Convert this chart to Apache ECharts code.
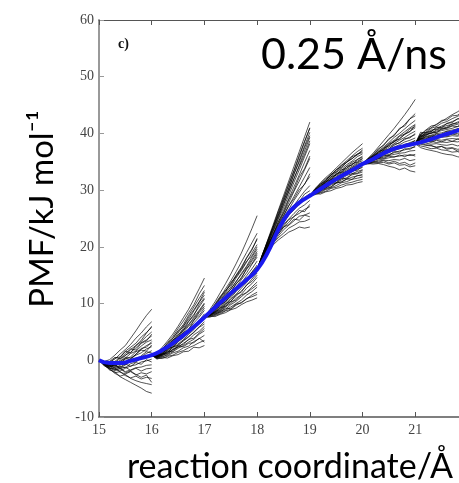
<!DOCTYPE html>
<html>
<head>
<meta charset="utf-8">
<script src="https://cdn.jsdelivr.net/npm/echarts@6/dist/echarts.min.js"></script>
<style>
  html, body { margin: 0; padding: 0; background: #fff; }
  #chart { width: 459px; height: 483px; }
</style>
</head>
<body>
<div id="chart"></div>
<script>
// Axis range and ticks (the frame runs off the right edge before 22 Å)
const xMin = 15, xMax = 21.83, xStep = 1;
const yTicks = [-10, 0, 10, 20, 30, 40, 50, 60];

// Averaged PMF curve (blue)
const pmfX = [15, 15.2, 15.4, 15.6, 15.8, 16, 16.2, 16.4, 16.6, 16.8, 17, 17.2, 17.4, 17.6, 17.8, 18,
              18.2, 18.4, 18.6, 18.8, 19, 19.2, 19.4, 19.6, 19.8, 20, 20.2, 20.4, 20.6, 20.8, 21,
              21.2, 21.4, 21.6, 21.8, 22];
const pmfY = [0, -0.5, -0.5, -0.1, 0.4, 0.9, 1.8, 3.0, 4.4, 5.9, 7.6, 9.3, 11.0, 12.6, 14.2, 16.0,
              19.0, 23.0, 26.0, 27.8, 29.0, 30.2, 31.4, 32.5, 33.5, 34.6, 35.5, 36.5, 37.3, 37.8, 38.2,
              38.7, 39.3, 39.9, 40.5, 41.0];

// Pulling windows: start coordinate and the shared starting value of each fan
const windowStart = [15, 16, 17, 18, 19, 20, 21];
const windowStartPMF = [0, 0.9, 7.6, 16, 29, 34.6, 38.2];
// Offsets (Å) of the sampled points inside each window
const sampleOffsets = [0.1, 0.2, 0.3, 0.4, 0.5, 0.6, 0.7, 0.8, 0.9, 1.0];

// Individual work trajectories per window
const traj15 = [
  [-0.2, 0.1, 0.9, 1.8, 2.6, 3.9, 5.2, 6.6, 7.9, 9.0],
  [-0.4, -0.3, 0.2, 1.1, 1.9, 2.8, 3.9, 4.8, 5.9, 6.8],
  [-0.6, -0.8, -0.2, 0.5, 1.6, 2.3, 3.0, 4.1, 4.9, 5.8],
  [-0.3, -0.6, -0.4, 0.3, 0.8, 1.9, 2.6, 3.3, 4.2, 5.0],
  [-0.5, -1.0, -0.7, 0.0, 0.9, 1.4, 2.2, 3.1, 3.6, 4.3],
  [-0.4, -0.7, -0.9, -0.3, 0.4, 1.2, 1.6, 2.5, 3.2, 3.6],
  [-0.7, -1.1, -0.8, -0.6, 0.2, 0.6, 1.5, 1.9, 2.6, 3.0],
  [-0.3, -0.9, -1.3, -0.9, -0.3, 0.3, 0.9, 1.3, 2.0, 2.4],
  [-0.6, -1.2, -1.0, -1.4, -0.8, -0.2, 0.4, 0.6, 1.2, 1.7],
  [-0.5, -0.8, -1.5, -1.1, -1.3, -0.6, -0.3, 0.4, 0.5, 1.0],
  [-0.8, -1.3, -1.6, -1.9, -1.4, -1.0, -0.8, -0.3, -0.1, 0.2],
  [-0.6, -1.4, -1.8, -1.5, -2.0, -1.7, -1.3, -1.2, -0.9, -0.8],
  [-0.9, -1.5, -1.3, -2.1, -2.4, -2.0, -2.6, -2.2, -2.4, -2.0],
  [-0.7, -1.6, -2.2, -2.0, -2.7, -3.1, -2.8, -3.3, -3.0, -3.2],
  [-1.0, -1.4, -2.3, -2.8, -2.5, -3.2, -3.6, -3.9, -4.1, -4.3],
  [-0.8, -1.7, -2.0, -2.9, -3.4, -3.9, -4.4, -4.9, -5.5, -5.8],
  [-0.4, -0.2, 0.5, 0.3, 1.2, 2.0, 1.8, 3.0, 3.4, 4.6],
  [-0.5, -0.9, -0.3, -0.6, 0.3, 0.1, 1.1, 1.8, 1.6, 2.7],
  [-0.2, -0.6, -1.1, -0.5, -0.8, 0.2, -0.1, 0.8, 1.5, 1.3],
  [-0.7, -0.4, -0.9, -1.2, -0.6, -1.1, -0.4, -0.7, 0.1, -0.3],
  [-0.6, -1.2, -0.7, -1.5, -1.2, -1.8, -1.4, -1.9, -1.5, -1.4],
  [-0.3, -0.5, 0.4, 0.6, 1.6, 1.3, 2.6, 3.5, 4.8, 6.0],
  [-0.8, -1.0, -1.7, -1.3, -2.2, -1.9, -2.5, -3.0, -2.6, -3.9],
  [-0.4, -0.8, -0.5, -0.2, 0.5, 0.4, 1.0, 2.1, 2.3, 3.3]
];
const traj16 = [
  [1.2, 2.3, 3.4, 4.6, 6.0, 7.5, 9.0, 10.8, 12.6, 14.5],
  [1.0, 1.9, 3.1, 4.2, 5.6, 6.9, 8.4, 9.8, 11.7, 13.2],
  [0.8, 1.6, 2.7, 3.9, 5.2, 6.3, 7.9, 9.4, 10.9, 12.3],
  [1.1, 1.7, 2.5, 3.4, 4.8, 6.1, 7.2, 8.7, 10.2, 11.5],
  [0.7, 1.4, 2.4, 3.5, 4.3, 5.7, 6.9, 8.1, 9.4, 10.8],
  [1.0, 1.5, 2.2, 3.0, 4.1, 5.2, 6.2, 7.6, 8.8, 10.1],
  [0.6, 1.2, 2.0, 3.1, 3.8, 4.9, 6.0, 7.0, 8.4, 9.5],
  [0.9, 1.3, 1.8, 2.6, 3.5, 4.3, 5.5, 6.6, 7.6, 8.8],
  [0.5, 1.0, 1.7, 2.4, 3.2, 4.1, 5.0, 6.1, 7.0, 8.2],
  [0.8, 1.1, 1.5, 2.2, 2.9, 3.6, 4.6, 5.4, 6.6, 7.5],
  [0.6, 0.8, 1.4, 1.9, 2.7, 3.4, 4.1, 5.0, 5.9, 6.8],
  [0.4, 0.9, 1.2, 1.8, 2.3, 3.0, 3.6, 4.5, 5.1, 6.0],
  [0.5, 0.6, 1.0, 1.5, 2.1, 2.6, 3.2, 3.7, 4.6, 5.2],
  [0.3, 0.7, 0.8, 1.3, 1.6, 2.2, 2.5, 3.3, 3.8, 4.4],
  [0.4, 0.3, 0.7, 0.9, 1.4, 1.7, 2.2, 2.6, 3.1, 3.5],
  [0.2, 0.5, 0.4, 0.8, 1.0, 1.5, 1.6, 2.3, 2.2, 2.6],
  [1.1, 1.4, 2.6, 3.1, 4.5, 5.3, 6.8, 7.9, 9.8, 11.0],
  [0.7, 1.6, 1.9, 3.3, 3.6, 4.9, 5.4, 7.1, 7.9, 9.2],
  [0.9, 1.0, 2.1, 2.3, 3.4, 3.9, 5.1, 5.6, 6.9, 7.8],
  [0.5, 1.2, 1.3, 2.4, 2.6, 3.5, 4.2, 4.9, 5.8, 6.4],
  [0.8, 0.9, 1.6, 1.5, 2.5, 2.8, 3.7, 3.9, 4.8, 5.6],
  [1.3, 2.0, 3.0, 3.8, 5.1, 5.9, 7.6, 8.9, 10.3, 12.0],
  [0.6, 1.1, 1.1, 1.9, 2.4, 2.4, 3.0, 3.1, 3.9, 3.2],
  [1.0, 1.8, 2.4, 3.6, 4.0, 5.4, 6.4, 7.3, 8.6, 9.9]
];
const traj17 = [
  [8.9, 10.3, 11.9, 13.5, 15.2, 17.0, 18.9, 21.0, 23.2, 25.5],
  [8.5, 9.8, 11.1, 12.6, 14.0, 15.6, 17.3, 19.0, 20.7, 22.4],
  [8.3, 9.4, 10.8, 12.0, 13.5, 15.0, 16.4, 18.1, 19.6, 21.3],
  [8.6, 9.3, 10.5, 11.8, 12.9, 14.5, 15.8, 17.3, 18.9, 20.4],
  [8.2, 9.1, 10.0, 11.3, 12.6, 13.8, 15.3, 16.6, 18.2, 19.6],
  [8.4, 9.0, 9.9, 11.0, 12.1, 13.4, 14.6, 16.0, 17.5, 18.9],
  [8.0, 8.8, 9.7, 10.6, 11.8, 12.9, 14.2, 15.4, 16.9, 18.2],
  [8.3, 8.9, 9.5, 10.4, 11.3, 12.5, 13.6, 14.9, 16.1, 17.5],
  [7.9, 8.6, 9.3, 10.1, 11.0, 12.1, 13.1, 14.3, 15.5, 16.8],
  [8.1, 8.5, 9.1, 9.8, 10.8, 11.6, 12.7, 13.7, 15.0, 16.1],
  [7.8, 8.4, 8.8, 9.6, 10.4, 11.3, 12.2, 13.2, 14.3, 15.4],
  [8.0, 8.3, 8.7, 9.4, 10.0, 10.9, 11.6, 12.7, 13.5, 14.6],
  [7.7, 8.1, 8.6, 9.0, 9.8, 10.4, 11.2, 12.0, 12.9, 13.8],
  [7.9, 8.0, 8.4, 8.8, 9.4, 10.0, 10.6, 11.5, 12.1, 12.9],
  [7.6, 7.9, 8.2, 8.7, 9.0, 9.7, 10.2, 10.8, 11.5, 12.0],
  [7.8, 7.7, 8.1, 8.4, 8.9, 9.2, 9.8, 10.3, 10.6, 11.0],
  [8.7, 9.6, 11.0, 12.3, 13.2, 14.9, 16.2, 18.0, 19.4, 21.5],
  [8.1, 9.2, 9.9, 11.2, 12.0, 13.5, 14.4, 16.2, 17.0, 18.6],
  [8.4, 8.7, 9.8, 10.3, 11.5, 12.2, 13.5, 14.1, 15.6, 16.5],
  [7.9, 8.6, 8.9, 10.0, 10.4, 11.6, 12.0, 13.3, 13.9, 15.0],
  [8.2, 8.4, 9.3, 9.5, 10.3, 10.6, 11.5, 11.9, 12.6, 13.3],
  [8.0, 8.2, 8.5, 9.2, 9.1, 9.9, 10.1, 10.9, 11.2, 11.6],
  [8.5, 9.5, 10.4, 11.6, 12.5, 13.9, 15.1, 16.4, 17.8, 19.2],
  [8.6, 9.9, 11.3, 12.2, 13.7, 14.7, 16.0, 17.5, 18.4, 20.0]
];
const traj18 = [
  [18.6, 21.2, 23.8, 26.4, 29.0, 31.6, 34.2, 36.8, 39.4, 42.0],
  [18.4, 20.9, 23.4, 25.9, 28.4, 30.9, 33.4, 35.9, 38.5, 41.0],
  [18.7, 21.0, 23.2, 25.6, 27.9, 30.4, 32.8, 35.3, 37.8, 40.2],
  [18.3, 20.5, 22.8, 25.0, 27.4, 29.7, 32.0, 34.4, 36.9, 39.3],
  [18.5, 20.6, 22.6, 24.8, 26.9, 29.1, 31.4, 33.6, 35.9, 38.2],
  [18.2, 20.2, 22.3, 24.3, 26.4, 28.5, 30.6, 32.7, 34.9, 37.0],
  [18.4, 20.3, 22.1, 24.0, 25.9, 27.8, 29.8, 31.6, 33.6, 35.6],
  [18.1, 19.9, 21.8, 23.6, 25.4, 27.2, 28.9, 30.6, 32.3, 34.0],
  [18.3, 20.0, 21.7, 23.4, 25.1, 26.6, 28.2, 29.6, 31.1, 32.4],
  [18.0, 19.7, 21.4, 23.0, 24.6, 26.0, 27.3, 28.6, 29.8, 30.8],
  [18.2, 19.8, 21.3, 22.9, 24.2, 25.6, 26.5, 27.6, 28.7, 29.4],
  [17.9, 19.5, 21.1, 22.5, 23.9, 24.9, 25.9, 26.8, 27.4, 28.2],
  [18.1, 19.6, 21.0, 22.3, 23.4, 24.3, 25.4, 25.9, 26.6, 27.1],
  [17.8, 19.3, 20.7, 21.9, 23.0, 23.8, 24.6, 25.4, 25.6, 26.0],
  [18.0, 19.4, 20.6, 21.6, 22.4, 23.3, 23.8, 24.4, 24.5, 24.9],
  [17.7, 19.1, 20.3, 21.2, 21.9, 22.6, 23.0, 23.5, 23.3, 23.5],
  [18.5, 21.1, 23.5, 26.2, 28.6, 31.1, 33.5, 36.2, 38.6, 40.9],
  [18.6, 20.8, 23.4, 25.5, 28.1, 30.2, 32.9, 35.0, 37.5, 39.6],
  [18.3, 20.7, 22.9, 25.3, 27.5, 29.8, 32.1, 34.2, 36.3, 38.7],
  [18.2, 20.1, 22.0, 24.4, 26.0, 28.3, 30.0, 32.3, 33.8, 36.0],
  [18.4, 20.4, 22.0, 23.9, 25.5, 27.3, 28.5, 30.1, 31.0, 32.9],
  [18.0, 19.8, 21.6, 23.1, 24.8, 25.8, 27.4, 28.0, 29.3, 29.9],
  [17.9, 19.7, 21.2, 22.7, 23.6, 24.8, 25.3, 26.4, 26.2, 27.5],
  [18.1, 19.6, 21.3, 22.2, 23.5, 23.9, 24.9, 24.7, 25.6, 25.3]
];
const traj19 = [
  [30.2, 31.3, 32.2, 33.0, 33.9, 34.8, 35.7, 36.6, 37.4, 38.2],
  [29.9, 31.0, 31.8, 32.7, 33.6, 34.4, 35.2, 36.0, 36.8, 37.4],
  [30.1, 30.8, 31.7, 32.6, 33.2, 34.0, 34.9, 35.6, 36.2, 36.9],
  [29.7, 30.7, 31.5, 32.3, 33.1, 33.8, 34.5, 35.1, 35.9, 36.4],
  [30.0, 30.6, 31.4, 32.1, 32.8, 33.5, 34.2, 34.9, 35.4, 36.0],
  [29.8, 30.5, 31.2, 31.9, 32.7, 33.2, 33.9, 34.5, 35.1, 35.6],
  [29.6, 30.4, 31.0, 31.8, 32.4, 33.1, 33.6, 34.2, 34.8, 35.2],
  [29.9, 30.3, 31.1, 31.6, 32.2, 32.8, 33.4, 33.9, 34.4, 34.8],
  [29.5, 30.2, 30.8, 31.4, 32.1, 32.6, 33.1, 33.7, 34.0, 34.4],
  [29.7, 30.1, 30.7, 31.2, 31.8, 32.4, 32.8, 33.3, 33.7, 34.0],
  [29.4, 30.0, 30.5, 31.1, 31.6, 32.0, 32.6, 32.9, 33.3, 33.6],
  [29.6, 29.9, 30.4, 30.9, 31.3, 31.8, 32.2, 32.7, 32.9, 33.2],
  [29.3, 29.8, 30.2, 30.6, 31.2, 31.5, 31.9, 32.3, 32.5, 32.8],
  [29.5, 29.6, 30.1, 30.4, 30.8, 31.3, 31.5, 31.9, 32.1, 32.3],
  [29.2, 29.5, 29.8, 30.3, 30.5, 30.9, 31.2, 31.4, 31.7, 31.9],
  [29.4, 29.3, 29.7, 29.9, 30.3, 30.5, 30.9, 31.0, 31.3, 31.5],
  [30.0, 31.1, 31.6, 32.8, 33.3, 34.4, 34.9, 35.9, 36.3, 37.1],
  [29.8, 30.4, 31.5, 31.8, 32.9, 33.2, 34.2, 34.4, 35.4, 35.8],
  [29.6, 30.5, 30.9, 31.9, 32.1, 33.0, 33.3, 34.0, 34.6, 34.9],
  [30.1, 30.2, 31.0, 31.2, 32.0, 32.2, 32.9, 33.4, 33.5, 34.2],
  [29.4, 30.1, 30.3, 31.2, 31.3, 32.1, 32.0, 32.9, 33.0, 33.5],
  [29.7, 29.8, 30.6, 30.5, 31.3, 31.4, 32.0, 31.9, 32.6, 32.5],
  [30.3, 31.1, 32.0, 32.6, 33.6, 34.1, 35.0, 35.5, 36.4, 36.6],
  [29.9, 30.8, 31.3, 32.4, 32.6, 33.6, 33.8, 34.7, 34.9, 35.5]
];
const traj20 = [
  [35.6, 36.5, 37.6, 38.7, 39.8, 40.9, 42.1, 43.3, 44.6, 46.0],
  [35.4, 36.3, 37.1, 38.0, 38.9, 39.8, 40.7, 41.6, 42.6, 43.5],
  [35.2, 36.0, 36.9, 37.6, 38.4, 39.3, 40.0, 40.8, 41.6, 42.3],
  [35.5, 36.1, 36.7, 37.4, 38.2, 38.8, 39.6, 40.3, 41.0, 41.6],
  [35.1, 35.8, 36.6, 37.2, 37.9, 38.5, 39.1, 39.8, 40.4, 41.0],
  [35.3, 35.9, 36.4, 37.0, 37.6, 38.2, 38.8, 39.3, 39.9, 40.4],
  [35.0, 35.7, 36.3, 36.8, 37.3, 37.9, 38.4, 38.9, 39.4, 39.8],
  [35.2, 35.6, 36.1, 36.6, 37.1, 37.6, 38.0, 38.5, 38.8, 39.2],
  [34.9, 35.5, 35.9, 36.5, 36.9, 37.3, 37.7, 38.0, 38.4, 38.7],
  [35.1, 35.4, 35.8, 36.2, 36.6, 37.0, 37.3, 37.6, 37.9, 38.1],
  [34.8, 35.3, 35.6, 36.0, 36.3, 36.6, 36.9, 37.1, 37.4, 37.6],
  [35.0, 35.2, 35.5, 35.8, 36.1, 36.3, 36.5, 36.6, 36.9, 37.0],
  [34.7, 35.0, 35.3, 35.5, 35.7, 35.9, 36.0, 36.2, 36.1, 36.3],
  [34.9, 34.9, 35.1, 35.3, 35.2, 35.4, 35.3, 35.6, 35.2, 35.4],
  [34.6, 34.8, 34.8, 34.9, 34.6, 34.8, 34.4, 34.5, 34.1, 34.3],
  [34.7, 34.6, 34.7, 34.5, 34.2, 34.0, 33.6, 33.9, 33.4, 33.2],
  [35.5, 36.2, 37.3, 37.9, 39.1, 39.6, 40.9, 41.3, 42.6, 43.1],
  [35.3, 35.8, 36.8, 37.1, 38.1, 38.5, 39.5, 39.9, 40.8, 41.2],
  [35.0, 35.9, 36.2, 37.0, 37.2, 38.1, 38.3, 39.1, 39.2, 40.0],
  [35.2, 35.4, 36.1, 36.3, 36.9, 37.2, 37.5, 38.1, 38.2, 38.8],
  [34.9, 35.5, 35.6, 36.2, 36.1, 36.8, 36.7, 37.3, 37.2, 37.8],
  [35.1, 35.2, 35.7, 35.6, 36.0, 35.8, 36.2, 35.9, 36.3, 36.0],
  [34.8, 35.0, 34.9, 35.2, 34.8, 35.1, 34.7, 34.9, 34.4, 34.8],
  [35.4, 36.0, 36.5, 37.4, 37.8, 38.7, 39.0, 39.9, 40.3, 41.5]
];
const traj21 = [
  [39.6, 40.5, 41.0, 41.6, 42.1, 42.7, 43.3, 43.8, 44.4, 45.0],
  [39.9, 40.2, 40.9, 41.2, 41.8, 42.1, 42.6, 43.0, 43.5, 43.9],
  [39.4, 40.0, 40.4, 40.9, 41.3, 41.7, 42.1, 42.5, 42.9, 43.2],
  [40.2, 40.1, 40.6, 40.7, 41.1, 41.4, 41.6, 42.0, 42.3, 42.6],
  [39.2, 39.7, 40.1, 40.4, 40.7, 41.0, 41.4, 41.6, 41.9, 42.1],
  [39.7, 39.8, 40.0, 40.2, 40.5, 40.7, 40.9, 41.2, 41.4, 41.6],
  [39.0, 39.5, 39.7, 40.0, 40.1, 40.4, 40.6, 40.8, 41.0, 41.2],
  [39.5, 39.3, 39.6, 39.7, 39.9, 40.0, 40.2, 40.4, 40.6, 40.7],
  [38.8, 39.1, 39.3, 39.5, 39.6, 39.8, 39.9, 40.0, 40.2, 40.3],
  [39.1, 38.9, 39.2, 39.1, 39.3, 39.4, 39.6, 39.5, 39.8, 39.8],
  [38.6, 38.8, 38.7, 38.9, 38.8, 39.0, 39.1, 39.0, 39.2, 39.3],
  [38.9, 38.5, 38.6, 38.4, 38.5, 38.4, 38.6, 38.5, 38.7, 38.6],
  [38.4, 38.3, 38.1, 38.2, 38.0, 37.9, 38.1, 37.8, 38.0, 37.9],
  [38.1, 37.9, 37.8, 37.6, 37.7, 37.4, 37.5, 37.2, 37.3, 37.1],
  [37.8, 37.6, 37.3, 37.4, 37.1, 37.0, 36.7, 36.8, 36.5, 36.4],
  [37.5, 37.2, 37.0, 36.8, 36.5, 36.3, 36.2, 35.9, 35.7, 35.5],
  [39.8, 40.6, 41.3, 41.5, 42.3, 42.4, 43.1, 43.2, 43.9, 44.2],
  [39.3, 40.2, 40.3, 41.1, 41.0, 41.8, 41.9, 42.6, 42.5, 43.1],
  [39.6, 39.6, 40.3, 40.1, 40.8, 40.9, 41.3, 41.2, 41.9, 41.9],
  [38.9, 39.4, 39.3, 39.9, 39.8, 40.4, 40.3, 40.8, 40.7, 41.0],
  [39.2, 39.0, 39.5, 39.3, 39.7, 39.5, 39.9, 39.7, 40.1, 39.9],
  [38.5, 38.7, 38.4, 38.8, 38.5, 38.9, 38.6, 39.0, 38.8, 39.1],
  [38.3, 38.0, 37.9, 37.5, 37.7, 37.2, 37.4, 36.9, 37.0, 36.6],
  [39.0, 39.9, 40.0, 40.6, 40.9, 41.1, 41.7, 41.8, 42.4, 42.6]
];
const windowTraj = [traj15, traj16, traj17, traj18, traj19, traj20, traj21];

const serifFont = '"Liberation Serif", "Times New Roman", serif';
const sansFont = 'Lato, "Open Sans", sans-serif';

const series = [];
windowTraj.forEach((lines, w) => {
  const x0 = windowStart[w];
  lines.forEach(vals => {
    const data = [[x0, windowStartPMF[w]]];
    vals.forEach((v, i) => data.push([x0 + sampleOffsets[i], v]));
    series.push({
      type: 'line',
      data: data,
      symbol: 'none',
      silent: true,
      z: 2,
      lineStyle: { color: '#000', width: 0.8, opacity: 0.85 }
    });
  });
});
series.push({
  type: 'line',
  data: pmfX.map((x, i) => [x, pmfY[i]]),
  symbol: 'none',
  smooth: true,
  silent: true,
  z: 5,
  lineStyle: { color: '#1a1aee', width: 4 }
});

// Only whole-Ångström ticks carry labels
const wholeOnly = v => (Math.abs(v - Math.round(v)) < 1e-6 ? String(Math.round(v)) : '');

const chart = echarts.init(document.getElementById('chart'));
chart.setOption({
  animation: false,
  backgroundColor: '#fff',
  grid: { left: 99, top: 20, right: 0, bottom: 66, containLabel: false },
  xAxis: [
    {
      type: 'value', min: xMin, max: xMax, interval: xStep,
      position: 'bottom',
      axisLine: { show: true, onZero: false, lineStyle: { color: '#555', width: 1.5 } },
      axisTick: { show: true, inside: true, length: 5, lineStyle: { color: '#555' } },
      axisLabel: { color: '#444', fontFamily: serifFont, fontSize: 14, margin: 6,
                   showMaxLabel: false, formatter: wholeOnly },
      splitLine: { show: false }
    },
    {
      type: 'value', min: xMin, max: xMax, interval: xStep,
      position: 'top',
      axisLine: { show: true, onZero: false, lineStyle: { color: '#555', width: 1 } },
      axisTick: { show: true, inside: true, length: 5, lineStyle: { color: '#555' } },
      axisLabel: { show: false },
      splitLine: { show: false }
    }
  ],
  yAxis: {
    type: 'value', min: yTicks[0], max: yTicks[yTicks.length - 1], interval: 10,
    axisLine: { show: true, onZero: false, lineStyle: { color: '#999', width: 2 } },
    axisTick: { show: true, inside: true, length: 5, lineStyle: { color: '#999' } },
    axisLabel: { color: '#444', fontFamily: serifFont, fontSize: 14, margin: 5 },
    splitLine: { show: false }
  },
  graphic: [
    {
      type: 'text', left: 118, top: 37,
      style: { text: 'c)', font: 'bold 14px ' + serifFont, fill: '#111' }
    },
    {
      type: 'text', x: 354, y: 55,
      style: { text: '0.25 Å/ns', font: '43px ' + sansFont, fill: '#000',
               align: 'center', verticalAlign: 'middle' }
    },
    {
      type: 'text', x: 42, y: 209, rotation: Math.PI / 2,
      style: { text: 'PMF/kJ mol⁻¹', font: '33px ' + sansFont, fill: '#000',
               align: 'center', verticalAlign: 'middle' }
    },
    {
      type: 'text', x: 290, y: 467,
      style: { text: 'reaction coordinate/Å', font: '34px ' + sansFont, fill: '#000',
               align: 'center', verticalAlign: 'middle' }
    }
  ],
  series: series
});
</script>
</body>
</html>
